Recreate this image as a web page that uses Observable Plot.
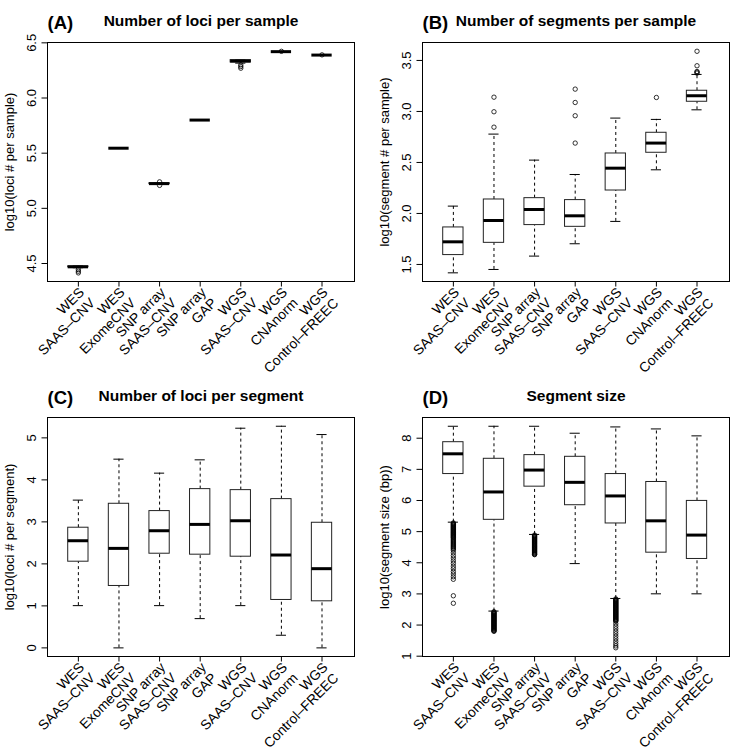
<!DOCTYPE html>
<html>
<head>
<meta charset="utf-8">
<script src="https://cdn.jsdelivr.net/npm/d3@7"></script>
<script src="https://cdn.jsdelivr.net/npm/@observablehq/plot@0.6"></script>
<style>
  html, body { margin: 0; padding: 0; background: #fff; }
  #grid { display: grid; grid-template-columns: 375px 375px; grid-template-rows: 375px 375px; width: 750px; height: 750px; }
  #grid svg { display: block; }
</style>
</head>
<body>
<div id="grid"></div>
<script>
// Categories (method / tool)
const categories = [
  "WES\nSAAS–CNV",
  "WES\nExomeCNV",
  "SNP array\nSAAS–CNV",
  "SNP array\nGAP",
  "WGS\nSAAS–CNV",
  "WGS\nCNAnorm",
  "WGS\nControl–FREEC"
];

// (A) Number of loci per sample
const aLo  = [4.462, 5.545, 5.218, 5.800, 6.316, 6.420, 6.389];
const aQ1  = [4.466, 5.545, 5.221, 5.800, 6.322, 6.420, 6.389];
const aMed = [4.470, 5.545, 5.224, 5.800, 6.335, 6.420, 6.389];
const aQ3  = [4.474, 5.545, 5.227, 5.800, 6.343, 6.420, 6.389];
const aHi  = [4.478, 5.545, 5.230, 5.800, 6.348, 6.420, 6.389];
const aOut = [[4.445, 4.43, 4.415], [], [5.240, 5.208], [], [6.300, 6.285, 6.270], [6.423], [6.391]];
const aTicks = [4.5, 5.0, 5.5, 6.0, 6.5];
const aTickLabels = ["4.5", "5.0", "5.5", "6.0", "6.5"];

// (B) Number of segments per sample
const bLo  = [1.418, 1.451, 1.582, 1.703, 1.922, 2.428, 3.016];
const bQ1  = [1.592, 1.712, 1.886, 1.869, 2.225, 2.595, 3.095];
const bMed = [1.722, 1.931, 2.039, 1.977, 2.444, 2.690, 3.154];
const bQ3  = [1.863, 2.137, 2.150, 2.131, 2.588, 2.791, 3.203];
const bHi  = [2.072, 2.778, 2.523, 2.382, 2.935, 2.922, 3.363];
const bOut = [[], [2.846, 2.997, 3.140], [], [2.690, 2.958, 3.088, 3.219], [], [3.137], [3.376, 3.385, 3.392, 3.448, 3.590]];
const bTicks = [1.5, 2.0, 2.5, 3.0, 3.5];
const bTickLabels = ["1.5", "2.0", "2.5", "3.0", "3.5"];

// (C) Number of loci per segment
const cLo  = [1.006, 0.000, 1.006, 0.697, 1.006, 0.301, 0.000];
const cQ1  = [2.052, 1.474, 2.242, 2.219, 2.171, 1.141, 1.109];
const cMed = [2.551, 2.369, 2.789, 2.940, 3.027, 2.211, 1.886];
const cQ3  = [2.861, 3.431, 3.257, 3.780, 3.756, 3.542, 2.979];
const cHi  = [3.518, 4.493, 4.160, 4.477, 5.230, 5.277, 5.079];
const cOut = [[], [], [], [], [], [], []];
const cTicks = [0, 1, 2, 3, 4, 5];
const cTickLabels = ["0", "1", "2", "3", "4", "5"];

// (D) Segment size
const dLo  = [5.304, 2.449, 4.910, 3.973, 2.854, 3.003, 3.003];
const dQ1  = [6.849, 5.379, 6.444, 5.848, 5.262, 4.324, 4.122];
const dMed = [7.499, 6.274, 6.977, 6.583, 6.146, 5.347, 4.889];
const dQ3  = [7.872, 7.339, 7.457, 7.403, 6.849, 6.594, 5.986];
const dHi  = [8.384, 8.384, 8.384, 8.160, 8.362, 8.298, 8.075];
const dOut = [
  [5.28, 5.26, 5.24, 5.22, 5.20, 5.18, 5.16, 5.14, 5.12, 5.10, 5.08, 5.06, 5.04, 5.02, 5.00,
   4.98, 4.96, 4.94, 4.92, 4.90, 4.88, 4.86, 4.84, 4.82, 4.80, 4.77, 4.74, 4.71, 4.68, 4.65,
   4.62, 4.59, 4.56, 4.53, 4.50, 4.47, 4.44, 4.40, 4.32, 4.23, 4.15, 4.06, 3.98, 3.89, 3.81,
   3.72, 3.64, 3.55, 3.47, 2.94, 2.70],
  [2.43, 2.41, 2.39, 2.37, 2.35, 2.33, 2.31, 2.29, 2.27, 2.25, 2.23, 2.21, 2.19, 2.17, 2.15,
   2.13, 2.11, 2.09, 2.07, 2.05, 2.03, 2.01, 1.99, 1.97, 1.95, 1.93, 1.91, 1.89, 1.87, 1.85,
   1.83, 1.81, 1.80],
  [4.89, 4.87, 4.85, 4.83, 4.81, 4.79, 4.77, 4.75, 4.73, 4.71, 4.69, 4.67, 4.65, 4.63, 4.61,
   4.59, 4.57, 4.55, 4.53, 4.51, 4.49, 4.47, 4.45, 4.43, 4.41, 4.39, 4.37, 4.35, 4.33, 4.31,
   4.29, 4.27, 4.26],
  [],
  [2.84, 2.82, 2.80, 2.78, 2.76, 2.74, 2.72, 2.70, 2.68, 2.66, 2.64, 2.62, 2.60, 2.58, 2.56,
   2.54, 2.52, 2.50, 2.48, 2.46, 2.44, 2.42, 2.40, 2.38, 2.36, 2.34, 2.32, 2.30, 2.28, 2.26,
   2.24, 2.22, 2.20, 2.18, 2.16, 2.14, 2.12, 2.04, 1.96, 1.88, 1.80, 1.72, 1.64, 1.56, 1.48,
   1.40, 1.33, 1.27],
  [],
  []
];
const dTicks = [1, 2, 3, 4, 5, 6, 7, 8];
const dTickLabels = ["1", "2", "3", "4", "5", "6", "7", "8"];

const FONT = "'Liberation Sans', Arial, Helvetica, sans-serif";

function panel(letter, title, ylabel, lo, q1, med, q3, hi, out, domain, ticks, tickLabels) {
  const rows = categories.map((c, k) => ({i: k + 1, label: c, lo: lo[k], q1: q1[k], med: med[k], q3: q3[k], hi: hi[k]}));
  const pts = [];
  out.forEach((arr, k) => arr.forEach(v => pts.push({i: k + 1, v})));
  const tickRows = ticks.map((t, k) => ({t, s: tickLabels[k]}));
  const idx = categories.map((c, k) => k + 1);
  return Plot.plot({
    width: 375,
    height: 375,
    marginLeft: 47,
    marginRight: 21,
    marginTop: 42,
    marginBottom: 94,
    style: {fontFamily: FONT, fontSize: "13px", background: "white", color: "black", overflow: "visible"},
    x: {domain: [0.24, 7.80]},
    y: {domain},
    marks: [
      Plot.ruleX(rows, {x: "i", y1: "lo", y2: "q1", stroke: "black", strokeWidth: 1, strokeDasharray: "3,3"}),
      Plot.ruleX(rows, {x: "i", y1: "q3", y2: "hi", stroke: "black", strokeWidth: 1, strokeDasharray: "3,3"}),
      Plot.ruleY(rows, {y: "lo", x1: d => d.i - 0.125, x2: d => d.i + 0.125, stroke: "black", strokeWidth: 1}),
      Plot.ruleY(rows, {y: "hi", x1: d => d.i - 0.125, x2: d => d.i + 0.125, stroke: "black", strokeWidth: 1}),
      Plot.rect(rows, {x1: d => d.i - 0.25, x2: d => d.i + 0.25, y1: "q1", y2: "q3", fill: "white", stroke: "#222", strokeWidth: 1}),
      Plot.ruleY(rows, {y: "med", x1: d => d.i - 0.25, x2: d => d.i + 0.25, stroke: "black", strokeWidth: 3}),
      Plot.dot(pts, {x: "i", y: "v", r: 2.2, stroke: "black", strokeWidth: 0.8, fill: "none"}),
      Plot.frame({stroke: "black", strokeWidth: 1}),
      Plot.axisY({ticks, tickSize: 5.5, fill: "none", label: null}),
      Plot.axisX({ticks: idx, tickSize: 5.5, fill: "none", label: null}),
      Plot.text(tickRows, {y: "t", text: "s", frameAnchor: "left", textAnchor: "middle", lineAnchor: "middle", dx: -16, rotate: -90, fontSize: 13}),
      Plot.text([ylabel], {text: d => d, frameAnchor: "left", textAnchor: "middle", lineAnchor: "middle", dx: -38, rotate: -90, fontSize: 13}),
      Plot.text(rows, {x: "i", text: "label", frameAnchor: "bottom", dx: -1, dy: 4, rotate: -45, textAnchor: "end", lineAnchor: "top", lineHeight: 1.1, fontSize: 13.8}),
      Plot.text([letter], {text: d => d, frameAnchor: "top-left", textAnchor: "start", lineAnchor: "middle", dy: -19.9, fontSize: 18.5, fontWeight: "bold"}),
      Plot.text([title], {text: d => d, frameAnchor: "top", textAnchor: "middle", lineAnchor: "middle", dy: -21.6, fontSize: 15.5, fontWeight: "bold"})
    ]
  });
}

const grid = document.getElementById("grid");
grid.append(
  panel("(A)", "Number of loci per sample", "log10(loci # per sample)", aLo, aQ1, aMed, aQ3, aHi, aOut, [4.337, 6.503], aTicks, aTickLabels),
  panel("(B)", "Number of segments per sample", "log10(segment # per sample)", bLo, bQ1, bMed, bQ3, bHi, bOut, [1.333, 3.676], bTicks, bTickLabels),
  panel("(C)", "Number of loci per segment", "log10(loci # per segment)", cLo, cQ1, cMed, cQ3, cHi, cOut, [-0.205, 5.485], cTicks, cTickLabels),
  panel("(D)", "Segment size", "log10(segment size (bp))", dLo, dQ1, dMed, dQ3, dHi, dOut, [0.99, 8.665], dTicks, dTickLabels)
);
</script>
</body>
</html>
